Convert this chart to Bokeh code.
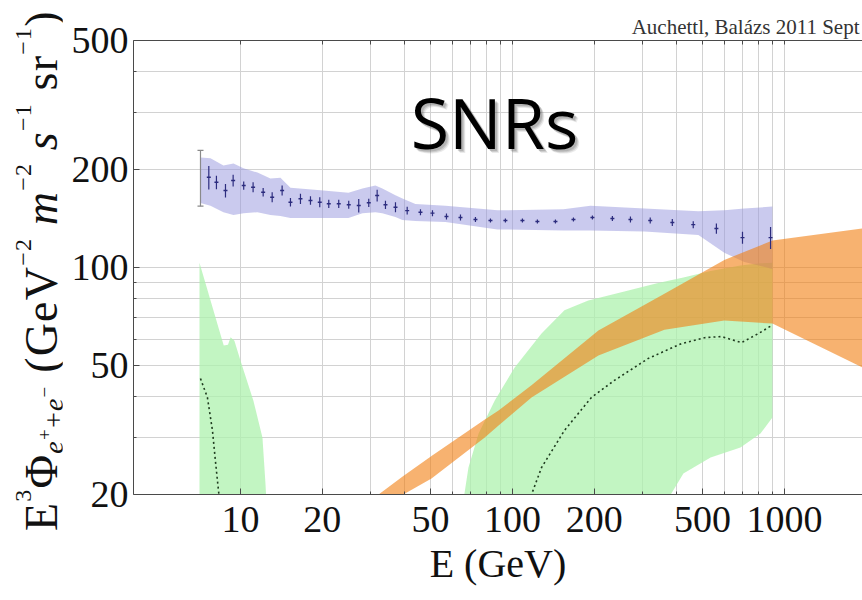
import math
from bokeh.plotting import figure
from bokeh.layouts import row
from bokeh.models import Range1d, FixedTicker, PrintfTickFormatter, LogAxis, Label, Title, Div
from bokeh.embed import file_html
from bokeh.resources import INLINE

# Measured e+ + e- spectrum, E^3 * flux (GeV^2 m^-2 s^-1 sr^-1)
data_energy = [7.13, 7.65, 8.16, 8.81, 9.40, 10.28, 11.13, 12.12, 13.08, 14.23, 15.27,
               16.62, 18.09, 19.57, 21.12, 22.98, 25.01, 27.22, 29.63, 31.81, 34.13,
               37.15, 41.02, 45.90, 50.81, 57.2, 64.4, 73.1, 83.0, 94.2, 108.8, 123.5,
               143.9, 167.6, 196.8, 233, 271.5, 321, 387, 462, 562, 701, 889]
data_flux = [191.9, 189.7, 183.0, 172.6, 185.3, 178.8, 176.7, 170.5, 164.6, 172.6, 158.9,
             162.8, 160.8, 158.9, 157.1, 157.1, 156.0, 155.2, 158.2, 166.6, 156.0,
             153.3, 149.7, 148.0, 147.0, 143.6, 142.6, 140.6, 139.5, 139.5, 139.5, 138.6,
             138.6, 140.6, 142.6, 141.6, 140.6, 139.5, 137.6, 135.5, 131.8, 123.6, 123.6]
data_err = [37.4, 15.7, 8.7, 8.2, 7.6, 5.3, 6.3, 5.1, 5.8, 6.1, 4.7,
            5.8, 4.8, 5.6, 4.7, 4.5, 4.4, 7.4, 4.7, 6.9, 4.6,
            5.4, 4.2, 3.1, 3.1, 3.1, 3.0, 2.5, 2.0, 2.0, 2.0, 2.0,
            2.0, 2.0, 2.0, 2.5, 3.0, 3.0, 3.4, 3.4, 4.7, 5.3, 9.6]

# Systematic band around the measurement
band_energy = [7.13, 7.76, 8.66, 9.43, 10.26, 11.55, 12.89, 14.03, 15.27, 19.69, 24.95,
               28.09, 31.34, 33.24, 37.13, 39.4, 43.97, 56.7, 88.1, 154, 193.6, 305.8,
               482.6, 601, 712, 903]
band_upper = [218, 217, 206, 209, 202, 196, 188, 189, 176, 173, 170, 175, 179, 175, 167,
              163, 157, 155, 150, 151, 155, 152, 149, 150, 152, 154]
band_lower = [158, 155, 148, 145, 147, 148, 145, 144, 142, 142, 142, 147, 148, 147, 143,
              140, 139, 138, 131, 130, 130, 129, 126, 111, 104, 99]

# SNR contribution, low-energy component
snr_low_energy = [7.07, 8.68, 9.0, 9.2, 9.5, 10.0, 11.16, 12.05, 12.36, 12.46]
snr_low_upper = [103.5, 57.5, 57.8, 61.0, 59.5, 51.7, 38.9, 29.9, 21.6, 19.0]
snr_low_lower = [10, 10, 10, 10, 10, 10, 10, 10, 10, 10]
snr_low_best_energy = [7.13, 7.56, 7.89, 8.09, 8.30, 8.40]
snr_low_best = [45.5, 39.8, 31.5, 25.4, 20.6, 19.0]

# SNR contribution, high-energy component
snr_high_energy = [60, 66.6, 68.9, 75.1, 86.0, 101.9, 127.9, 155.3, 190, 260, 340, 425,
                   535, 689, 816, 903]
snr_high_upper = [16, 20.1, 24.2, 30.8, 38.9, 49.2, 62.6, 73.9, 79.1, 84.5, 89.5, 93.1,
                  97.5, 101.4, 103, 103.5]
snr_high_lower = [10, 10, 10, 10, 10, 10, 10, 10, 10, 12, 17, 23.2, 26.0, 27.9, 30.8, 34.5]
snr_high_best_energy = [113, 117.5, 127.9, 155.3, 195.1, 237, 316, 418, 508, 586, 695,
                        802, 895]
snr_high_best = [18.5, 20, 24.2, 31.5, 39.8, 44.9, 52.5, 58.3, 60.8, 61.3, 58.7, 62.6, 66.2]

# Additional component band
extra_energy = [28, 32.2, 39.7, 50.4, 78.9, 88.9, 117.5, 207, 362, 601, 903, 1936, 2400]
extra_upper = [18.3, 20, 22.8, 26.3, 34.0, 36.3, 43.4, 64.0, 83.0, 105.5, 121.1, 131.8, 134]
extra_lower = [16.9, 18.1, 20, 22.4, 29.9, 32.6, 39.8, 53.6, 64.3, 68.7, 67.2, 49.2, 44]

x_major = [10, 20, 50, 100, 200, 500, 1000]
x_minor = [30, 40, 60, 70, 80, 90, 300, 400, 600, 700, 800, 900]
y_major = [20, 50, 100, 200, 500]
y_minor = [30, 40, 60, 70, 80, 90, 300, 400]

SERIF = "Liberation Serif"
LABEL_W = 62

p = figure(width=862 - LABEL_W, height=600, x_axis_type="log", y_axis_type="log",
           x_range=Range1d(4.044, 1936), y_range=Range1d(20, 500),
           output_backend="svg", toolbar_location=None,
           min_border_left=133 - LABEL_W, min_border_right=0, min_border_top=40,
           min_border_bottom=106)
p.outline_line_color = None
p.background_fill_color = "white"
p.border_fill_color = "white"

# grid
p.xgrid.ticker = FixedTicker(ticks=sorted(x_major + x_minor))
p.ygrid.ticker = FixedTicker(ticks=sorted(y_major + y_minor))
for g in (p.xgrid, p.ygrid):
    g.grid_line_color = "#d2d2d2"
    g.grid_line_width = 1

# axes
for ax in (p.xaxis, p.yaxis):
    ax.axis_line_color = "#4a4a4a"
    ax.major_tick_line_color = "#4a4a4a"
    ax.minor_tick_line_color = "#4a4a4a"
    ax.major_tick_in = 6
    ax.major_tick_out = 0
    ax.minor_tick_in = 3
    ax.minor_tick_out = 0
    ax.major_label_text_font = SERIF
    ax.major_label_text_font_size = "38px"
    ax.major_label_text_color = "#111111"
    ax.formatter = PrintfTickFormatter(format="%d")
p.xaxis.major_label_standoff = 12
p.yaxis.major_label_standoff = 5
p.xaxis.ticker = FixedTicker(ticks=x_major, minor_ticks=x_minor)
p.yaxis.ticker = FixedTicker(ticks=y_major, minor_ticks=y_minor)
p.xaxis.axis_label = "E (GeV)"
p.xaxis.axis_label_text_font = SERIF
p.xaxis.axis_label_text_font_size = "40px"
p.xaxis.axis_label_text_font_style = "normal"
p.xaxis.axis_label_text_color = "#111111"
p.xaxis.axis_label_standoff = 6

top_axis = LogAxis(ticker=FixedTicker(ticks=[], minor_ticks=sorted(x_major + x_minor)),
                   axis_line_color="#4a4a4a", minor_tick_line_color="#4a4a4a",
                   minor_tick_in=4, minor_tick_out=0, major_tick_in=0, major_tick_out=0)
p.add_layout(top_axis, "above")

# credit line above the frame
p.add_layout(Title(text="Auchettl, Balázs 2011 Sept", align="right", offset=3,
                   text_font=SERIF, text_font_size="21px", text_font_style="normal",
                   text_color="#333333", standoff=4), "above")

# bands
p.varea(x=snr_low_energy, y1=snr_low_lower, y2=snr_low_upper,
        fill_color="#aef2ae", fill_alpha=0.75)
p.varea(x=snr_high_energy, y1=snr_high_lower, y2=snr_high_upper,
        fill_color="#aef2ae", fill_alpha=0.75)
p.varea(x=band_energy, y1=band_lower, y2=band_upper,
        fill_color="#9696de", fill_alpha=0.5)
p.varea(x=extra_energy, y1=extra_lower, y2=extra_upper,
        fill_color="#f27f11", fill_alpha=0.6)

# best-fit curves
p.line(snr_low_best_energy, snr_low_best, line_color="#1e3a1e", line_width=1.6,
       line_dash="2 3")
p.line(snr_high_best_energy, snr_high_best, line_color="#1e3a1e", line_width=1.6,
       line_dash="2 3")

# data points with error bars
lo = [f - e for f, e in zip(data_flux, data_err)]
hi = [f + e for f, e in zip(data_flux, data_err)]
p.segment(x0=data_energy[:1], y0=lo[:1], x1=data_energy[:1], y1=hi[:1],
          line_color="#8a8a8a", line_width=1.2)
p.scatter(x=data_energy[:1] * 2, y=lo[:1] + hi[:1], marker="dash", size=6,
          line_color="#8a8a8a", line_width=1.2)
p.segment(x0=data_energy[1:], y0=lo[1:], x1=data_energy[1:], y1=hi[1:],
          line_color="#2c2c7e", line_width=1.2)
p.scatter(x=data_energy[1:], y=data_flux[1:], marker="dash", size=4,
          line_color="#2c2c7e", line_width=1.4)

# slide title with a soft drop shadow
for dx, dy, a in [(4, -4, 0.12), (3, -3, 0.18), (2, -2, 0.22)]:
    p.add_layout(Label(x=85.9, y=235.8, text="SNRs", text_font="Open Sans",
                       text_font_size="70px", text_align="center",
                       text_baseline="alphabetic", text_color="#555555",
                       text_alpha=a, x_offset=dx, y_offset=dy + 25))
p.add_layout(Label(x=85.9, y=235.8, text="SNRs", text_font="Open Sans",
                   text_font_size="70px", text_align="center",
                   text_baseline="alphabetic", text_color="#000000", y_offset=25))

# rotated y-axis title with real super- and subscripts
sup = "position:relative;font-size:24px;top:-26px;"
sub = "position:relative;font-size:28px;top:6px;"
subsup = "position:relative;font-size:19px;top:-12px;"
ylabel_html = (
    '<div style="position:relative;width:%dpx;height:600px;overflow:visible;">'
    '<div style="position:absolute;left:19px;top:531px;transform:rotate(-90deg);'
    'transform-origin:0 0;white-space:nowrap;font-family:\'Liberation Serif\';'
    'font-size:46px;line-height:46px;color:#111111;letter-spacing:1.2px;">'
    'E<span style="%s">3</span>&Phi;'
    '<span style="%s"><i>e</i><span style="%s">+</span>+<i>e</i>'
    '<span style="%s">&minus;</span></span>'
    '&nbsp;(GeV<span style="%s">&minus;2</span>&nbsp;<i>m</i>'
    '<span style="%s">&minus;2</span>&nbsp;<i>s</i>'
    '<span style="%s">&minus;1</span>&nbsp;sr<span style="%s">&minus;1</span>)'
    '</div></div>'
) % (LABEL_W, sup, sub, subsup, subsup, sup, sup, sup, sup)
ylabel = Div(text=ylabel_html, width=LABEL_W, height=600, margin=0,
             styles={"overflow": "visible"})

open("out.html", "w").write(file_html(row(ylabel, p), INLINE))
